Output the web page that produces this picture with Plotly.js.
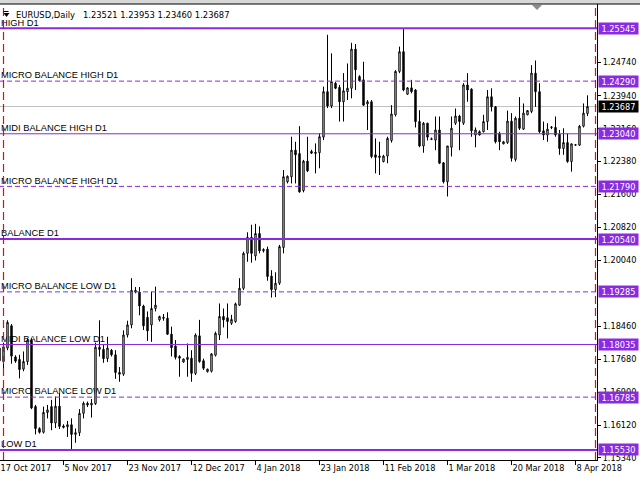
<!DOCTYPE html>
<html><head><meta charset="utf-8">
<script src="https://cdn.plot.ly/plotly-3.0.1.min.js"></script>
<style>
html,body{margin:0;padding:0;background:#fff;overflow:hidden;width:640px;height:480px}
#chart{position:absolute;left:-1px;top:0;width:641px;height:480px}
</style>
</head><body><div id="chart"></div>
<script>
const symbol = 'EURUSD,Daily';
const dates = ['2017-10-17','2017-10-18','2017-10-19','2017-10-20','2017-10-22','2017-10-23','2017-10-24','2017-10-25','2017-10-26','2017-10-27','2017-10-29','2017-10-30','2017-10-31',
'2017-11-01','2017-11-02','2017-11-03','2017-11-05','2017-11-06','2017-11-07','2017-11-08','2017-11-09','2017-11-10','2017-11-12','2017-11-13','2017-11-14','2017-11-15','2017-11-16','2017-11-17','2017-11-19','2017-11-20','2017-11-21','2017-11-22','2017-11-23','2017-11-24','2017-11-26','2017-11-27','2017-11-28','2017-11-29','2017-11-30',
'2017-12-01','2017-12-03','2017-12-04','2017-12-05','2017-12-06','2017-12-07','2017-12-08','2017-12-10','2017-12-11','2017-12-12','2017-12-13','2017-12-14','2017-12-15','2017-12-17','2017-12-18','2017-12-19','2017-12-20','2017-12-21','2017-12-22','2017-12-26','2017-12-27','2017-12-28','2017-12-29',
'2018-01-02','2018-01-03','2018-01-04','2018-01-05','2018-01-07','2018-01-08','2018-01-09','2018-01-10','2018-01-11','2018-01-12','2018-01-14','2018-01-15','2018-01-16','2018-01-17','2018-01-18','2018-01-19','2018-01-21','2018-01-22','2018-01-23','2018-01-24','2018-01-25','2018-01-26','2018-01-28','2018-01-29','2018-01-30','2018-01-31',
'2018-02-01','2018-02-02','2018-02-04','2018-02-05','2018-02-06','2018-02-07','2018-02-08','2018-02-09','2018-02-11','2018-02-12','2018-02-13','2018-02-14','2018-02-15','2018-02-16','2018-02-18','2018-02-19','2018-02-20','2018-02-21','2018-02-22','2018-02-23','2018-02-25','2018-02-26','2018-02-27','2018-02-28',
'2018-03-01','2018-03-02','2018-03-04','2018-03-05','2018-03-06','2018-03-07','2018-03-08','2018-03-09','2018-03-11','2018-03-12','2018-03-13','2018-03-14','2018-03-15','2018-03-16','2018-03-18','2018-03-19','2018-03-20','2018-03-21','2018-03-22','2018-03-23','2018-03-25','2018-03-26','2018-03-27','2018-03-28','2018-03-29','2018-03-30',
'2018-04-01','2018-04-02','2018-04-03','2018-04-04','2018-04-05','2018-04-06','2018-04-08','2018-04-09','2018-04-10','2018-04-11'];

const open = [1.1795,1.1763,1.1795,1.1848,1.1774,1.1768,1.1745,1.1763,1.1814,1.1656,1.1604,1.1595,1.1642,
1.1656,1.1617,1.1657,1.1610,1.1608,1.1613,1.1590,1.1594,1.1640,1.1664,1.1660,1.1663,1.1797,1.1792,1.1770,1.1790,1.1779,1.1737,1.1733,1.1826,1.1850,1.1932,1.1928,1.1895,1.1868,1.1850,
1.1889,1.1862,1.1868,1.1866,1.1828,1.1800,1.1775,1.1762,1.1768,1.1771,1.1735,1.1824,1.1765,1.1739,1.1740,1.1778,1.1826,1.1870,1.1867,1.1854,1.1858,1.1897,1.1937,
1.2020,1.2058,1.2014,1.2067,1.2026,1.2030,1.1966,1.1934,1.1949,1.2034,1.2190,1.2202,1.2265,1.2257,1.2169,1.2239,1.2262,1.2257,1.2259,1.2296,1.2404,1.2370,1.2424,1.2414,1.2380,1.2404,
1.2412,1.2505,1.2440,1.2432,1.2375,1.2380,1.2254,1.2251,1.2238,1.2251,1.2288,1.2349,1.2452,1.2499,1.2398,1.2413,1.2408,1.2333,1.2275,1.2329,1.2292,1.2289,1.2313,1.2235,
1.2190,1.2272,1.2329,1.2346,1.2329,1.2420,1.2410,1.2301,1.2309,1.2309,1.2333,1.2392,1.2368,1.2305,1.2280,1.2283,1.2334,1.2243,1.2341,1.2315,1.2349,1.2357,1.2448,1.2404,1.2311,1.2301,
1.2319,1.2319,1.2303,1.2269,1.2283,1.2238,1.2277,1.2277,1.2322,1.23521];
const high = [1.1800,1.1808,1.1861,1.1852,1.1778,1.1779,1.1787,1.1818,1.1818,1.1660,1.1607,1.1656,1.1660,
1.1672,1.1680,1.1688,1.1614,1.1622,1.1628,1.1604,1.1650,1.1668,1.1668,1.1674,1.1808,1.1861,1.1803,1.1822,1.1793,1.1790,1.1750,1.1837,1.1860,1.1961,1.1940,1.1940,1.1898,1.1882,1.1929,
1.1941,1.1872,1.1876,1.1880,1.1846,1.1814,1.1778,1.1770,1.1806,1.1790,1.1830,1.1862,1.1770,1.1746,1.1783,1.1834,1.1901,1.1889,1.1901,1.1874,1.1903,1.1961,1.2024,
1.2070,1.2088,1.2090,1.2084,1.2032,1.2036,1.1980,1.1975,1.2040,1.2218,1.2205,1.2297,1.2285,1.2322,1.2242,1.2297,1.2266,1.2281,1.2305,1.2416,1.2539,1.2495,1.2427,1.2420,1.2448,1.2471,
1.2520,1.2517,1.2443,1.2475,1.2384,1.2384,1.2293,1.2285,1.2254,1.2297,1.2372,1.2455,1.2511,1.25545,1.2415,1.2432,1.2410,1.2360,1.2332,1.2330,1.2295,1.2345,1.2345,1.2237,
1.2275,1.2345,1.2364,1.2349,1.2424,1.2448,1.2412,1.2319,1.2312,1.2349,1.2408,1.2412,1.2370,1.2309,1.2287,1.2359,1.2353,1.2345,1.2391,1.2376,1.2360,1.2467,1.2478,1.2424,1.2333,1.2329,
1.2322,1.2345,1.2313,1.2317,1.2305,1.2281,1.2279,1.2325,1.2376,1.23953];
const low = [1.1730,1.1747,1.1790,1.1758,1.1760,1.1723,1.1740,1.1755,1.1650,1.1590,1.1592,1.1592,1.1628,
1.1600,1.1605,1.1603,1.1604,1.1584,1.1553,1.1570,1.1586,1.1628,1.1655,1.1630,1.1660,1.1775,1.1760,1.1762,1.1775,1.1722,1.1715,1.1729,1.1820,1.1842,1.1925,1.1873,1.1838,1.1812,1.1810,
1.1882,1.1858,1.1860,1.1826,1.1775,1.1768,1.1727,1.1760,1.1727,1.1715,1.1731,1.1760,1.1743,1.1737,1.1737,1.1775,1.1814,1.1844,1.1818,1.1850,1.1855,1.1895,1.1933,
1.2000,1.1998,1.2003,1.2020,1.2022,1.1955,1.1915,1.1916,1.1945,1.2020,1.2186,1.2186,1.2186,1.2164,1.2165,1.2213,1.2256,1.2210,1.2222,1.2289,1.2365,1.2365,1.2410,1.2333,1.2333,1.2384,
1.2388,1.2408,1.2428,1.2370,1.2313,1.2246,1.2210,1.2206,1.2236,1.2234,1.2283,1.2345,1.2448,1.2405,1.2396,1.2400,1.2319,1.2272,1.2259,1.2288,1.2289,1.2265,1.2232,1.2186,
1.2155,1.2250,1.2325,1.2265,1.2325,1.2380,1.2297,1.2272,1.2300,1.2307,1.2313,1.2357,1.2281,1.2265,1.2279,1.2280,1.2238,1.2238,1.2313,1.2313,1.2348,1.2353,1.2368,1.2305,1.2289,1.2285,
1.2315,1.2297,1.2254,1.2254,1.2235,1.2214,1.2275,1.2275,1.2319,1.23460];
const close = [1.1765,1.1798,1.1856,1.1776,1.1764,1.1744,1.1763,1.1814,1.1653,1.1604,1.1595,1.1642,1.1648,
1.1617,1.1657,1.1609,1.1607,1.1613,1.1590,1.1594,1.1640,1.1664,1.1660,1.1664,1.1797,1.1792,1.1770,1.1795,1.1779,1.1737,1.1733,1.1826,1.1850,1.1932,1.1928,1.1895,1.1848,1.1836,1.1889,
1.1897,1.1870,1.1866,1.1828,1.1796,1.1773,1.1771,1.1769,1.1773,1.1735,1.1826,1.1763,1.1747,1.1745,1.1781,1.1830,1.1870,1.1862,1.1858,1.1863,1.1900,1.1937,1.2020,
1.2058,1.2020,1.2067,1.2026,1.2029,1.1965,1.1934,1.1949,1.2036,1.2202,1.2203,1.2265,1.2254,1.2166,1.2239,1.2216,1.2258,1.2260,1.2297,1.2404,1.2370,1.2428,1.2412,1.2380,1.2406,1.2412,
1.2505,1.2456,1.2430,1.2372,1.2380,1.2250,1.2248,1.2248,1.2251,1.2293,1.2351,1.2452,1.2499,1.2408,1.2413,1.2404,1.2333,1.2275,1.2329,1.2296,1.2291,1.2313,1.2234,1.2190,
1.2275,1.2317,1.2346,1.2333,1.2420,1.2408,1.2311,1.2313,1.2301,1.2333,1.2392,1.2368,1.2285,1.2285,1.2285,1.2334,1.2246,1.2341,1.2317,1.2353,1.2359,1.2448,1.2404,1.2309,1.2301,1.2315,
1.2320,1.2301,1.2269,1.2283,1.2238,1.2280,1.2278,1.2322,1.2353,1.23687];

const tickDates = ['2017-10-17','2017-11-05','2017-11-23','2017-12-12','2018-01-04','2018-01-23','2018-02-11','2018-03-01','2018-03-20','2018-04-08'];
const tickLabels = ['17 Oct 2017','5 Nov 2017','23 Nov 2017','12 Dec 2017','4 Jan 2018','23 Jan 2018','11 Feb 2018','1 Mar 2018','20 Mar 2018','8 Apr 2018'];
const priceTicks = [1.24740,1.23940,1.23160,1.22380,1.21600,1.20820,1.20040,1.18460,1.17680,1.16900,1.16120,1.15340];

const levelNames = ['HIGH D1','MICRO BALANCE HIGH D1','MIDI BALANCE HIGH D1','MICRO BALANCE HIGH D1','BALANCE D1','MICRO BALANCE LOW D1','MIDI BALANCE LOW D1','MICRO BALANCE LOW D1','LOW D1'];
const levelValues = [1.25545,1.24290,1.23040,1.21790,1.20540,1.19285,1.18035,1.16785,1.15530];
const levelKinds = ['major','micro','midi','micro','major','micro','midi','micro','major'];
const rangeMarkerDate = '2017-10-18';
const barsBeyondLast = 2;

const PURPLE = '#8A2BE2';
const kindStyle = {
  major: {width: 2, dash: 'solid'},
  midi:  {width: 1, dash: 'solid'},
  micro: {width: 1, dash: '5px,3px'}
};
const axisFont = {family: 'DejaVu Sans', size: 8.2, color: '#000'};
const levelFont = {family: 'Liberation Sans', size: 9.3, color: '#000'};

const fmt = v => v.toFixed(5);
const last = close.length - 1;
const shapes = [];
const annotations = [];

// level lines (above) and their captions (below the candles)
levelValues.forEach((v, k) => {
  const st = kindStyle[levelKinds[k]];
  shapes.push({type: 'line', xref: 'paper', yref: 'y', x0: 0, x1: 1, y0: v, y1: v, layer: 'above',
    line: {color: PURPLE, width: st.width, dash: st.dash}});
  shapes.push({type: 'line', xref: 'paper', yref: 'y', x0: 2 / 598, x1: 1, y0: v, y1: v, layer: 'below',
    line: {color: 'rgba(0,0,0,0)', width: 1},
    label: {text: levelNames[k], font: levelFont, textposition: 'start', xanchor: 'left', yanchor: 'bottom', padding: 2}});
  annotations.push({xref: 'paper', yref: 'y', x: 1, y: v, xanchor: 'left', yanchor: 'middle', xshift: 1,
    text: fmt(v), showarrow: false, bgcolor: PURPLE, font: {family: 'DejaVu Sans', size: 8.2, color: '#fff'},
    width: 39, height: 11, borderpad: 0, align: 'center'});
});

// bid line
shapes.push({type: 'line', xref: 'paper', yref: 'y', x0: 0, x1: 1, y0: close[last], y1: close[last], layer: 'below',
  line: {color: '#C0C0C0', width: 1}});
annotations.push({xref: 'paper', yref: 'y', x: 1, y: close[last], xanchor: 'left', yanchor: 'middle', xshift: 1,
  text: fmt(close[last]), showarrow: false, bgcolor: '#000', font: {family: 'DejaVu Sans', size: 8.2, color: '#fff'},
  width: 39, height: 11, borderpad: 0, align: 'center'});

// red dashed range markers
[dates.indexOf(rangeMarkerDate), last + barsBeyondLast].forEach(ix => {
  shapes.push({type: 'line', xref: 'x', yref: 'paper', x0: ix, x1: ix, y0: 0, y1: 1, layer: 'above',
    line: {color: '#FF0000', width: 1.2, dash: '8px,4px'}});
});

// window top strip and border line
shapes.push({type: 'rect', xref: 'paper', yref: 'paper', x0: -0.01, x1: 1.08, y0: 1, y1: 1.012, layer: 'above',
  line: {width: 0}, fillcolor: '#D8D8D8'});
shapes.push({type: 'line', xref: 'paper', yref: 'paper', x0: -0.01, x1: 1.08, y0: 1, y1: 1, layer: 'above',
  line: {color: '#000', width: 1}});
// chart shift marker
shapes.push({type: 'path', xref: 'paper', yref: 'paper', xsizemode: 'pixel', ysizemode: 'pixel',
  xanchor: 538/598, yanchor: 1, path: 'M -5,-1 L 5,-1 L 0,-6 Z', fillcolor: '#8C8C8C', line: {width: 0}, layer: 'above'});
// header menu icon
shapes.push({type: 'path', xref: 'paper', yref: 'paper', xsizemode: 'pixel', ysizemode: 'pixel',
  xanchor: 0, yanchor: 1, path: 'M 4.5,-7 L 9.5,-7 L 9.5,-8 L 4.5,-8 Z M 4.5,-9 L 10.5,-9 L 7.5,-13 Z', fillcolor: '#000', line: {width: 0}, layer: 'above'});

// header text
annotations.push({xref: 'paper', yref: 'paper', x: 0, y: 1, xanchor: 'left', yanchor: 'top', xshift: 15, yshift: -4,
  text: symbol + '\u00a0\u00a0 ' + [open[last], high[last], low[last], close[last]].map(fmt).join(' '),
  showarrow: false, font: {family: 'DejaVu Sans', size: 8.4, color: '#000'}});

const trace = {
  type: 'candlestick', x: dates, open: open, high: high, low: low, close: close,
  increasing: {line: {color: '#000', width: 1}, fillcolor: '#FFFFFF'},
  decreasing: {line: {color: '#000', width: 1}, fillcolor: '#000000'},
  whiskerwidth: 0, hoverinfo: 'skip', showlegend: false
};

const layout = {
  width: 641, height: 480,
  margin: {l: 0, r: 43, t: 4, b: 20, pad: 0},
  paper_bgcolor: '#fff', plot_bgcolor: '#fff',
  showlegend: false,
  boxgap: 0.5,
  xaxis: {type: 'category', range: [-0.125, 149.375], showgrid: false, zeroline: false,
    showline: true, linecolor: '#000', linewidth: 1,
    ticks: 'outside', ticklen: 4, tickcolor: '#000', tickwidth: 1,
    tickmode: 'array', tickvals: tickDates, ticktext: tickLabels,
    ticklabelposition: 'outside right', tickfont: axisFont,
    rangeslider: {visible: false}, fixedrange: true},
  yaxis: {side: 'right', range: [1.15292, 1.26122], showgrid: false, zeroline: false,
    showline: true, linecolor: '#000', linewidth: 1,
    ticks: 'outside', ticklen: 3, tickcolor: '#000', tickwidth: 1,
    tickmode: 'array', tickvals: priceTicks, ticktext: priceTicks.map(fmt),
    tickfont: axisFont, fixedrange: true},
  shapes: shapes,
  annotations: annotations
};

Plotly.newPlot('chart', [trace], layout, {staticPlot: true, displayModeBar: false});
</script>
</body></html>
